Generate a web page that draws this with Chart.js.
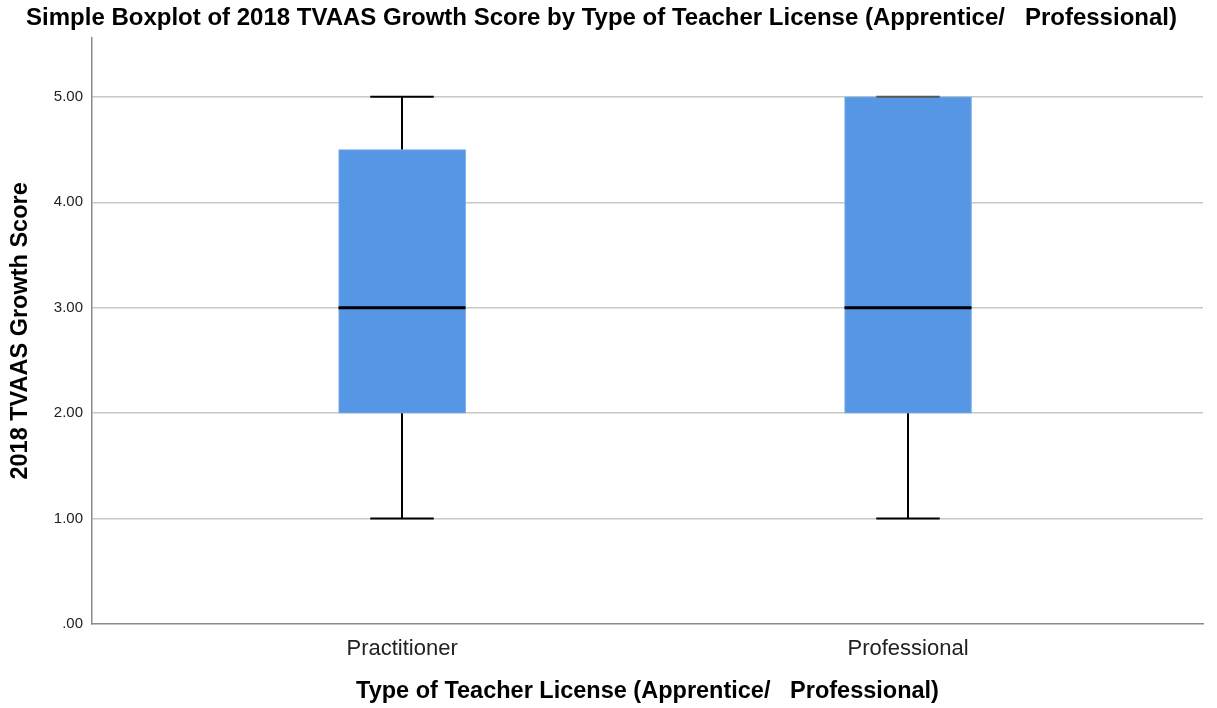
<!DOCTYPE html>
<html lang="en">
<head>
    <meta charset="UTF-8">
    <title>Simple Boxplot of 2018 TVAAS Growth Score</title>
    <script src="https://cdn.jsdelivr.net/npm/chart.js"></script>
    <style>
        body { margin: 0; background: #fff; }
    </style>
</head>
<body>
<canvas id="boxChart" width="1217" height="708"></canvas>

<script>
    // Box statistics
    var categories = ['Practitioner', 'Professional'];
    var minValues = [1, 1];
    var q1Values = [2, 2];
    var medianValues = [3, 3];
    var q3Values = [4.5, 5];
    var maxValues = [5, 5];
    var yTickValues = [0, 1, 2, 3, 4, 5];

    var boxData = categories.map(function (c, i) {
        return { x: i + 1, y: [q1Values[i], q3Values[i]] };
    });

    // whiskers, caps and median lines drawn from the arrays through the scales
    var boxPlotLines = {
        id: 'boxPlotLines',
        afterDatasetsDraw: function (chart) {
            var ctx = chart.ctx;
            var xs = chart.scales.x, ys = chart.scales.y;
            var meta = chart.getDatasetMeta(0);
            ctx.save();
            categories.forEach(function (c, i) {
                var x = Math.round(xs.getPixelForValue(i + 1));
                var half = meta.data[i].width / 2;
                var capHalf = half / 2;
                var yMin = ys.getPixelForValue(minValues[i]);
                var yQ1 = ys.getPixelForValue(q1Values[i]);
                var yMed = ys.getPixelForValue(medianValues[i]);
                var yQ3 = ys.getPixelForValue(q3Values[i]);
                var yMax = ys.getPixelForValue(maxValues[i]);

                ctx.strokeStyle = '#000';
                ctx.lineWidth = 2;
                ctx.beginPath();
                ctx.moveTo(x, yQ1); ctx.lineTo(x, yMin);
                ctx.moveTo(x, yQ3); ctx.lineTo(x, yMax);
                ctx.moveTo(x - capHalf, yMin); ctx.lineTo(x + capHalf, yMin);
                ctx.stroke();
                // the top cap sits on the box edge when max equals q3
                ctx.strokeStyle = (maxValues[i] === q3Values[i]) ? '#555' : '#000';
                ctx.beginPath();
                ctx.moveTo(x - capHalf, yMax); ctx.lineTo(x + capHalf, yMax);
                ctx.stroke();

                ctx.strokeStyle = '#000';
                ctx.lineWidth = 3;
                ctx.beginPath();
                ctx.moveTo(x - half, yMed); ctx.lineTo(x + half, yMed);
                ctx.stroke();
            });
            ctx.restore();
        }
    };

    var ctx = document.getElementById('boxChart').getContext('2d');
    var boxChart = new Chart(ctx, {
        type: 'bar',
        data: {
            datasets: [{
                label: '2018 TVAAS Growth Score',
                data: boxData,
                backgroundColor: '#5596e5',
                borderColor: '#78abea',
                borderWidth: 1,
                borderSkipped: false,
                barThickness: 127
            }]
        },
        plugins: [boxPlotLines],
        options: {
            responsive: false,
            animation: false,
            layout: { padding: { right: 14 } },
            plugins: {
                legend: { display: false },
                tooltip: { enabled: false },
                title: {
                    display: true,
                    text: 'Simple Boxplot of 2018 TVAAS Growth Score by Type of Teacher License (Apprentice/   Professional)',
                    color: '#000',
                    font: { family: 'Liberation Sans, Arial', size: 24, weight: 'bold' },
                    padding: { top: 4, bottom: 5 }
                }
            },
            scales: {
                x: {
                    type: 'linear',
                    offset: false,
                    min: 0.387,
                    max: 2.583,
                    afterBuildTicks: function (scale) {
                        scale.ticks = categories.map(function (c, i) { return { value: i + 1 }; });
                    },
                    afterFit: function (scale) { scale.height = 84; },
                    grid: { display: false, drawTicks: false, offset: false },
                    border: { display: true, color: '#8a8a8a', width: 1.5 },
                    ticks: {
                        padding: 12,
                        color: '#222',
                        font: { family: 'Liberation Sans, Arial', size: 22 },
                        callback: function (v) { return categories[Math.round(v) - 1]; }
                    },
                    title: {
                        display: true,
                        text: 'Type of Teacher License (Apprentice/   Professional)',
                        color: '#000',
                        font: { family: 'Liberation Sans, Arial', size: 23.5, weight: 'bold' },
                        padding: { top: 0, bottom: 2 }
                    }
                },
                y: {
                    min: 0,
                    max: 5.56,
                    afterBuildTicks: function (scale) {
                        scale.ticks = yTickValues.map(function (v) { return { value: v }; });
                    },
                    afterFit: function (scale) { scale.width = 92; },
                    grid: {
                        drawTicks: false,
                        color: function (c) { return c.tick && c.tick.value === 0 ? 'rgba(0,0,0,0)' : '#c8c8c8'; },
                        lineWidth: 1.5
                    },
                    border: { display: true, color: '#8a8a8a', width: 1.5 },
                    ticks: {
                        padding: 9,
                        color: '#222',
                        font: { family: 'Liberation Sans, Arial', size: 15 },
                        callback: function (v) { return v === 0 ? '.00' : v.toFixed(2); }
                    },
                    title: {
                        display: true,
                        text: '2018 TVAAS Growth Score',
                        color: '#000',
                        font: { family: 'Liberation Sans, Arial', size: 23.5, weight: 'bold' },
                        padding: { top: 6, bottom: 0 }
                    }
                }
            }
        }
    });
</script>
</body>
</html>
